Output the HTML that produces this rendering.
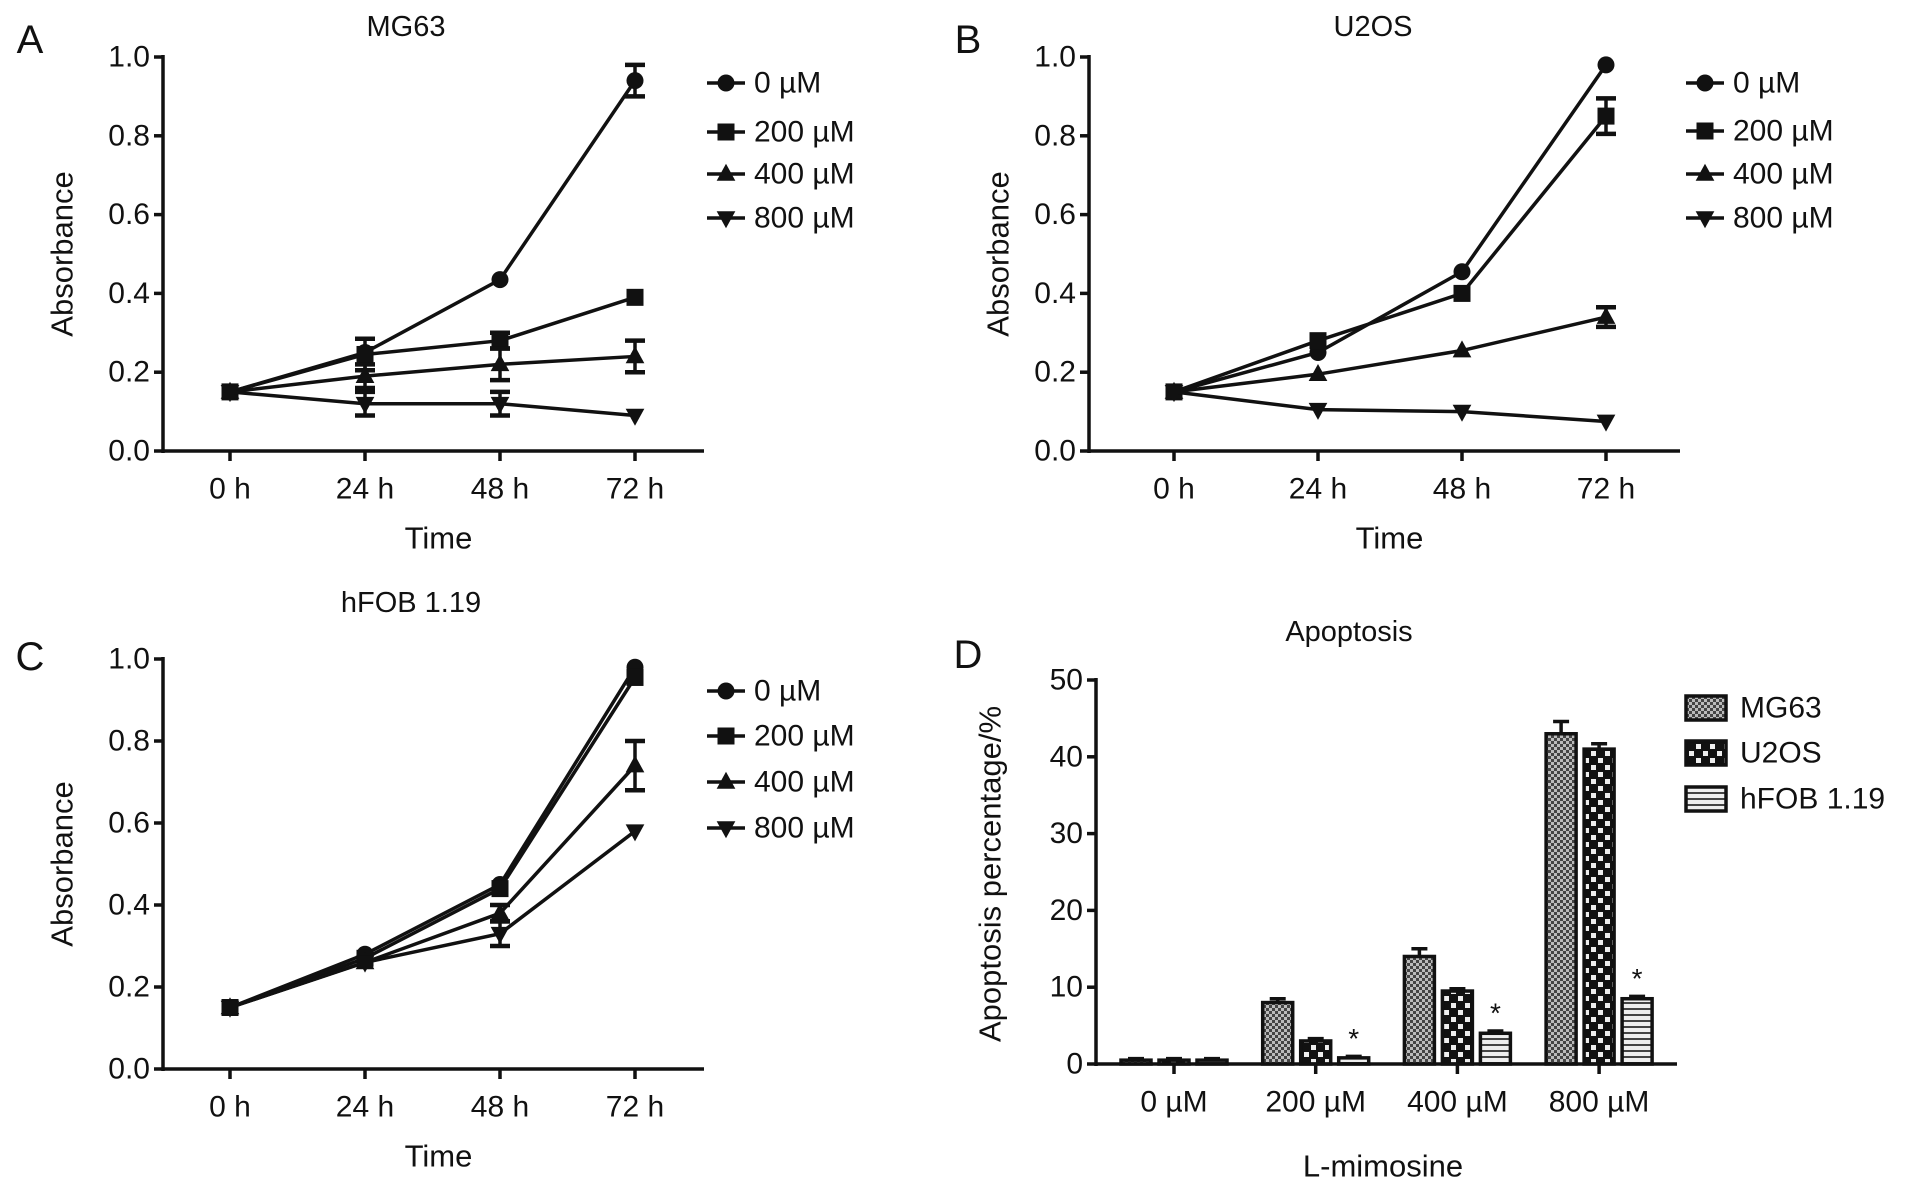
<!DOCTYPE html>
<html><head><meta charset="utf-8"><style>
html,body{margin:0;padding:0;background:#fff;}
svg{display:block;font-family:"Liberation Sans",Arial,sans-serif;}
</style></head><body>
<svg id="fig" width="1913" height="1188" viewBox="0 0 1913 1188" xmlns="http://www.w3.org/2000/svg">
<defs>
<pattern id="pMG" width="6" height="6" patternUnits="userSpaceOnUse"><rect width="6" height="6" fill="#bbb"/><rect width="3" height="3" fill="#444"/><rect x="3" y="3" width="3" height="3" fill="#444"/></pattern>
<pattern id="pU2" width="14" height="14" patternUnits="userSpaceOnUse"><rect width="14" height="14" fill="#111"/><rect x="2" y="2" width="5" height="5" fill="#eee"/><rect x="9" y="9" width="5" height="5" fill="#eee"/></pattern>
<pattern id="pHF" width="6" height="6" patternUnits="userSpaceOnUse"><rect width="6" height="6" fill="#eee"/><rect width="6" height="2" fill="#444"/></pattern>
</defs>
</svg>
<script>
// ---- data ----
const timeLabels = ["0 h","24 h","48 h","72 h"];
const absTicks = [0.0,0.2,0.4,0.6,0.8,1.0];
const doseLabels = ["0 µM","200 µM","400 µM","800 µM"];
const A_0 = [0.15,0.25,0.435,0.94];
const A_200 = [0.15,0.245,0.28,0.39];
const A_400 = [0.15,0.19,0.22,0.24];
const A_800 = [0.15,0.12,0.12,0.09];
const A_err0 = [0.01,0.01,0.005,0.04];
const A_err200 = [0.01,0.04,0.02,0.01];
const A_err400 = [0.01,0.03,0.04,0.04];
const A_err800 = [0.01,0.03,0.03,0.005];
const B_0 = [0.15,0.25,0.455,0.98];
const B_200 = [0.15,0.28,0.40,0.85];
const B_400 = [0.15,0.195,0.255,0.34];
const B_800 = [0.15,0.105,0.10,0.075];
const B_err0 = [0.01,0.01,0.01,0.01];
const B_err200 = [0.01,0.01,0.01,0.045];
const B_err400 = [0.01,0.005,0.005,0.025];
const B_err800 = [0.005,0.005,0.005,0.005];
const C_0 = [0.15,0.28,0.45,0.98];
const C_200 = [0.15,0.27,0.44,0.955];
const C_400 = [0.15,0.26,0.38,0.74];
const C_800 = [0.15,0.26,0.33,0.58];
const C_err0 = [0.01,0.01,0.01,0.01];
const C_err200 = [0.01,0.01,0.01,0.01];
const C_err400 = [0.01,0.01,0.02,0.06];
const C_err800 = [0.01,0.01,0.03,0.005];
const apopTicks = [0,10,20,30,40,50];
const cellLines = ["MG63","U2OS","hFOB 1.19"];
const D_MG63 = [0.5,8,14,43];
const D_U2OS = [0.5,3,9.5,41];
const D_hFOB = [0.5,0.8,4,8.5];
const D_errMG63 = [0.2,0.5,1,1.6];
const D_errU2OS = [0.2,0.3,0.3,0.7];
const D_errhFOB = [0.2,0.2,0.3,0.3];
const D_star = [false,true,true,true];

const NS="http://www.w3.org/2000/svg";
const svg=document.getElementById('fig');
const FS=30;
function mk(tag,attrs,parent){const e=document.createElementNS(NS,tag);for(const k in attrs)e.setAttribute(k,attrs[k]);(parent||svg).appendChild(e);return e;}
function txt(x,y,s,size,anchor,parent,extra){const t=mk('text',Object.assign({x:x,y:y,'font-size':size,'text-anchor':anchor||'middle','dominant-baseline':'central',fill:'#111'},extra||{}),parent);t.textContent=s;return t;}

function marker(g,type,x,y,r){
  if(type===0) return mk('circle',{cx:x,cy:y,r:r,fill:'#111'},g);
  if(type===1) return mk('rect',{x:x-r,y:y-r,width:2*r,height:2*r,fill:'#111'},g);
  if(type===2) return mk('polygon',{points:`${x},${y-r*1.2} ${x-r*1.1},${y+r*0.8} ${x+r*1.1},${y+r*0.8}`,fill:'#111'},g);
  return mk('polygon',{points:`${x},${y+r*1.2} ${x-r*1.1},${y-r*0.8} ${x+r*1.1},${y-r*0.8}`,fill:'#111'},g);
}

function linePanel(cfg){
  const g=mk('g',{});
  
  
  const yS=v=>cfg.y0+(cfg.y1-cfg.y0)*v;
  const xS=i=>cfg.xs[0]+i*(cfg.xs[1]-cfg.xs[0]);
  const ya=mk('line',{x1:cfg.ax,y1:cfg.y1-2,x2:cfg.ax,y2:cfg.y0+2,stroke:'#111','stroke-width':3.5},g);
  
  const xa=mk('line',{x1:cfg.ax,y1:cfg.y0,x2:cfg.axEnd,y2:cfg.y0,stroke:'#111','stroke-width':3.5},g);
  
  absTicks.forEach(v=>{
    mk('line',{x1:cfg.ax-9,y1:yS(v),x2:cfg.ax,y2:yS(v),stroke:'#111','stroke-width':3.5},g);
    const t=txt(cfg.ax-13,yS(v),v.toFixed(1),FS,'end',g);
    
  });
  timeLabels.forEach((s,i)=>{
    mk('line',{x1:xS(i),y1:cfg.y0,x2:xS(i),y2:cfg.y0+10,stroke:'#111','stroke-width':3.5},g);
    const t=txt(xS(i),cfg.y0+38,s,FS,'middle',g);
    
  });
  let t=txt((cfg.ax+cfg.axEnd)/2+5,cfg.y0+87,'Time',31,'middle',g);
  
  t=txt(0,0,'Absorbance',31,'middle',g,{transform:`translate(${cfg.ytx},${(cfg.y0+cfg.y1)/2}) rotate(-90)`});
  
  t=txt(cfg.titleX,cfg.titleY,cfg.title,29,'middle',g);
  
  t=txt(cfg.labX,cfg.labY,cfg.lab,40,'middle',g);
  
  cfg.series.forEach((s,k)=>{
    const sg=mk('g',{},g);
    
    
    mk('polyline',{points:s.map((v,i)=>xS(i)+','+yS(v)).join(' '),fill:'none',stroke:'#111','stroke-width':3.5},sg);
    s.forEach((v,i)=>{
      const e=cfg.errs[k][i];
      if(e>0.012){
        mk('line',{x1:xS(i),y1:yS(v-e),x2:xS(i),y2:yS(v+e),stroke:'#111','stroke-width':3.5},sg);
        mk('line',{x1:xS(i)-10,y1:yS(v-e),x2:xS(i)+10,y2:yS(v-e),stroke:'#111','stroke-width':4.5},sg);
        mk('line',{x1:xS(i)-10,y1:yS(v+e),x2:xS(i)+10,y2:yS(v+e),stroke:'#111','stroke-width':4.5},sg);
      }
      const m=marker(sg,k,xS(i),yS(v),8.5);
      
    });
    const lg=mk('g',{},g);
    
    
    const ly=cfg.legY[k];
    mk('line',{x1:cfg.legX-19,y1:ly,x2:cfg.legX+19,y2:ly,stroke:'#111','stroke-width':3.5},lg);
    marker(lg,k,cfg.legX,ly,8.5);
    txt(cfg.legX+28,ly,doseLabels[k],FS,'start',lg);
  });
}

linePanel({name:'panel-a-mg63',ax:163,axEnd:704,y0:451,y1:57,xs:[230,365],ytx:62,title:'MG63',titleX:406,titleY:27,lab:'A',labX:30,labY:40,
  series:[A_0,A_200,A_400,A_800],errs:[A_err0,A_err200,A_err400,A_err800],legX:726,legY:[83,132,174,218]});
linePanel({name:'panel-b-u2os',ax:1089,axEnd:1680,y0:451,y1:57,xs:[1174,1318],ytx:998,title:'U2OS',titleX:1373,titleY:27,lab:'B',labX:968,labY:40,
  series:[B_0,B_200,B_400,B_800],errs:[B_err0,B_err200,B_err400,B_err800],legX:1705,legY:[83,131,174,218]});
linePanel({name:'panel-c-hfob',ax:163,axEnd:704,y0:1069,y1:659,xs:[230,365],ytx:62,title:'hFOB 1.19',titleX:411,titleY:603,lab:'C',labX:30,labY:657,
  series:[C_0,C_200,C_400,C_800],errs:[C_err0,C_err200,C_err400,C_err800],legX:726,legY:[691,736,782,828]});

// ---- Panel D bar chart ----
(function(){
  const g=mk('g',{});
  
  
  const ax=1096,axEnd=1677,y0=1064,y1=680;
  const yS=v=>y0+(y1-y0)*v/50;
  const cx=i=>1174+i*141.7;
  const ya=mk('line',{x1:ax,y1:y1-2,x2:ax,y2:y0+2,stroke:'#111','stroke-width':3.5},g);
  
  apopTicks.forEach(v=>{
    mk('line',{x1:ax-9,y1:yS(v),x2:ax,y2:yS(v),stroke:'#111','stroke-width':3.5},g);
    const t=txt(ax-13,yS(v),String(v),FS,'end',g);
    
  });
  const series=[D_MG63,D_U2OS,D_hFOB],errs=[D_errMG63,D_errU2OS,D_errhFOB],pats=['url(#pMG)','url(#pU2)','url(#pHF)'];
  const bw=30,off=[-38,0,38];
  series.forEach((s,k)=>{
    s.forEach((v,i)=>{
      const x=cx(i)+off[k];
      const e=errs[k][i];
      mk('line',{x1:x,y1:yS(v),x2:x,y2:yS(v+e),stroke:'#111','stroke-width':3.5},g);
      mk('line',{x1:x-8,y1:yS(v+e),x2:x+8,y2:yS(v+e),stroke:'#111','stroke-width':3.5},g);
      const r=mk('rect',{x:x-bw/2,y:yS(v),width:bw,height:Math.max(yS(0)-yS(v),2),fill:pats[k],stroke:'#111','stroke-width':3.5},g);
      
      
    });
  });
  D_star.forEach((b,i)=>{
    if(!b) return;
    const t=txt(cx(i)+38,yS(D_hFOB[i]+D_errhFOB[i])-18,'*',28,'middle',g);
    
  });
  const xa=mk('line',{x1:ax,y1:y0,x2:axEnd,y2:y0,stroke:'#111','stroke-width':3.5},g);
  
  doseLabels.forEach((s,i)=>{
    mk('line',{x1:cx(i),y1:y0,x2:cx(i),y2:y0+10,stroke:'#111','stroke-width':3.5},g);
    const t=txt(cx(i),y0+38,s,FS,'middle',g);
    
  });
  let t=txt(1383,1166,'L-mimosine',31,'middle',g);
  
  t=txt(0,0,'Apoptosis percentage/%',31,'middle',g,{transform:'translate(990,874) rotate(-90)'});
  
  t=txt(1349,632,'Apoptosis',29,'middle',g);
  
  t=txt(968,655,'D',40,'middle',g);
  
  const legY=[708,753,799];
  cellLines.forEach((s,k)=>{
    const lg=mk('g',{},g);
    
    
    mk('rect',{x:1686,y:legY[k]-12,width:40,height:24,fill:pats[k],stroke:'#111','stroke-width':3.5},lg);
    txt(1740,legY[k],s,FS,'start',lg);
  });
})();
</script>
</body></html>
